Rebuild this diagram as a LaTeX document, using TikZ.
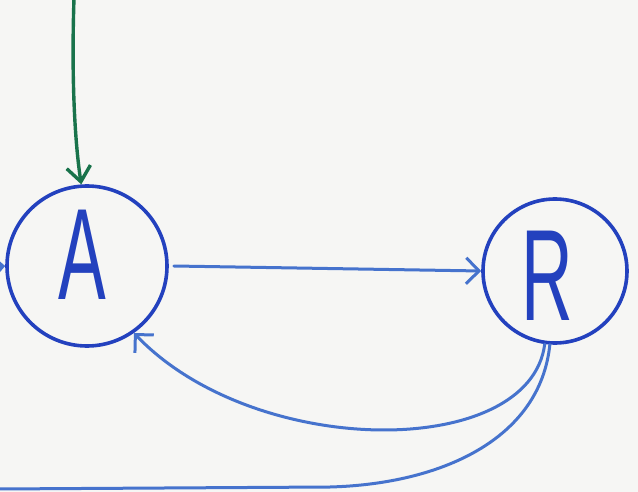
\documentclass[tikz,border=0pt]{standalone}
\usepackage{fontspec}
\setsansfont{Liberation Sans}
\usetikzlibrary{arrows.meta}
\definecolor{bg}{RGB}{246,246,244}
\definecolor{inkblue}{RGB}{35,65,190}
\definecolor{lightblue}{RGB}{70,115,205}
\definecolor{inkgreen}{RGB}{25,115,75}
\tikzset{
  state/.style={circle, draw=inkblue, line width=3.6pt, inner sep=0pt},
  letter/.style={text=inkblue, font=\sffamily\fontsize{130}{130}\selectfont, xscale=0.55, transform shape},
  link/.style={draw=lightblue, line width=3pt, line cap=round, -{Straight Barb[length=13pt,width=26pt,line width=3pt]}},
  plain/.style={draw=lightblue, line width=3pt, line cap=round},
  start/.style={draw=inkgreen, line width=3.4pt, line cap=round, -{Straight Barb[length=15pt,width=24pt,line width=3.4pt]}}
}
\begin{document}
\begin{tikzpicture}[x=1pt,y=-1pt]
\fill[bg] (0,0) rectangle (638,492);
\useasboundingbox (0,0) rectangle (638,492);
\node[state, minimum size=160pt] (A) at (87,266) {};
\node[state, minimum size=144pt] (R) at (555,271) {};
\node[letter] (lA) at (82,255) {A};
\node[letter] (lR) at (547,276) {R};
\coordinate (gtop) at (74,-2);
\coordinate (lin) at (-8,267);
\coordinate (bl) at (-2,489);
\draw[start] (gtop) .. controls (71,90) and (76,150) .. (A.94);
\draw[link] ([xshift=5pt]A.east) -- (R.west);
\draw[link] (R.-98) .. controls (530,460) and (255,460) .. (A.-55);
\draw[plain] (R.-94) .. controls (540,440) and (440,484) .. (330,487) -- (bl);
\draw[link] (lin) -- (A.west);
\end{tikzpicture}
\end{document}
